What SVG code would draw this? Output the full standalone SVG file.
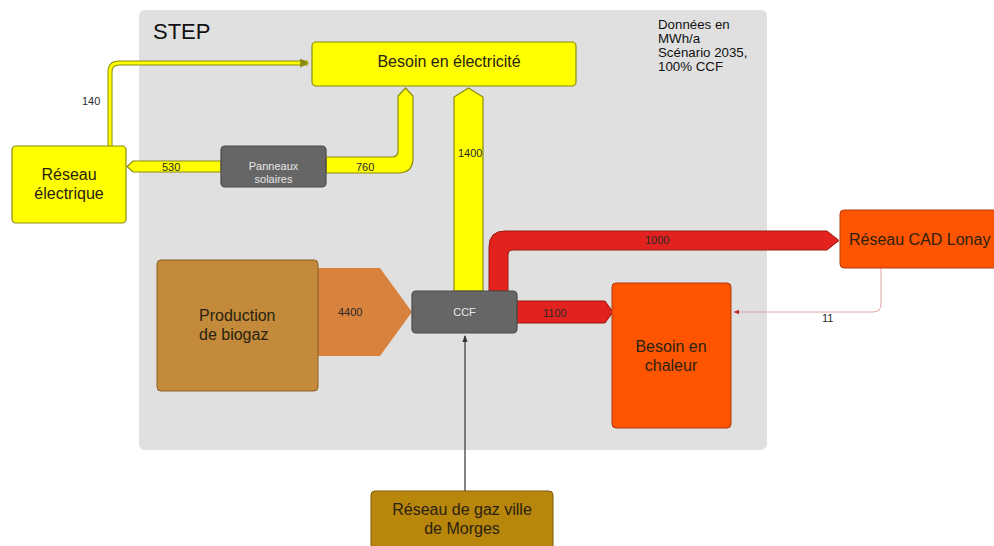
<svg xmlns="http://www.w3.org/2000/svg" width="994" height="546" viewBox="0 0 994 546">
<defs>
<style>
text{font-family:"Liberation Sans",Arial,sans-serif;fill:#2a2210}
.big{font-size:16px}
.num{font-size:11px;fill:#2a2a2a}
.light{font-size:11px;fill:#e8e8e8}
.yel{fill:#ffff00;stroke:#8a8a10;stroke-width:1.2}
.red{fill:#e2221f;stroke:#9a1a10;stroke-width:1}
.dark{fill:#666666;stroke:#4a4a4a;stroke-width:1.2}
</style>
<marker id="aBlack" viewBox="0 0 8 8" refX="7" refY="4" markerWidth="6" markerHeight="6" orient="auto"><path d="M0,1 L8,4 L0,7 Z" fill="#333"/></marker>
<marker id="aRed" viewBox="0 0 8 8" refX="7" refY="4" markerWidth="6" markerHeight="6" orient="auto"><path d="M0,1 L8,4 L0,7 Z" fill="#c03030"/></marker>
<marker id="aYel" viewBox="0 0 8 8" refX="7" refY="4" markerWidth="3" markerHeight="3" orient="auto"><path d="M0,0 L8,4 L0,8 Z" fill="#8a8a10"/></marker>
</defs>
<rect width="994" height="546" fill="#ffffff"/>
<g id="step">
<rect x="139" y="10" width="628" height="440" rx="6" fill="#e0e0e0"/>
<text x="153" y="39" font-size="22" style="fill:#111">STEP</text>
<text x="658" y="29" font-size="13.3" style="fill:#111">Données en</text>
<text x="658" y="43" font-size="13.3" style="fill:#111">MWh/a</text>
<text x="658" y="57" font-size="13.3" style="fill:#111">Scénario 2035,</text>
<text x="658" y="71" font-size="13.3" style="fill:#111">100% CCF</text>
</g>
<g id="connectors">
<path d="M110,146 V72 Q110,63 119,63 H308" fill="none" stroke="#8a8a10" stroke-width="5"/>
<path d="M110,147 V72 Q110,63 119,63 H308" fill="none" stroke="#ffff00" stroke-width="3" marker-end="url(#aYel)"/>
<text class="num" x="82" y="105">140</text>
<path class="yel" d="M221,161 H133 L127,166.5 L133,172 H221 Z"/>
<text class="num" x="162" y="171">530</text>
<path class="yel" d="M326,157 H392 Q398,157 398,151 V96 L405.5,88 L413,96 V158 Q413,173 398,173 H326 Z"/>
<text class="num" x="356" y="171">760</text>
<path class="yel" d="M454,291 V97 L468.5,88 L483,97 V291 Z"/>
<text class="num" x="458" y="157">1400</text>
<path fill="#d9823e" d="M318,268 H380 L412,312 L380,356 H318 Z"/>
<text class="num" x="338" y="316">4400</text>
<path class="red" d="M489,291 V247 Q489,231 505,231 H827 L839,240.5 L827,250 H513 Q508,250 508,255 V291 Z"/>
<text class="num" x="645" y="244">1000</text>
<path class="red" d="M517,301 H605 L613,312 L605,323 H517 Z"/>
<text class="num" x="543" y="317">1100</text>
<path d="M881,268 V304 Q881,312 873,312 H734" fill="none" stroke="#e6a0a0" stroke-width="1" marker-end="url(#aRed)"/>
<text class="num" x="822" y="322">11</text>
<path d="M465,491 V336" fill="none" stroke="#333" stroke-width="1.2" marker-end="url(#aBlack)"/>
</g>
<g id="besoin-electricite">
<rect x="312" y="42" width="264" height="44" rx="4" class="yel"/>
<text class="big" x="449" y="67" text-anchor="middle">Besoin en électricité</text>
</g>
<g id="reseau-electrique">
<rect x="12" y="146" width="114" height="77" rx="4" class="yel"/>
<text class="big" x="69" y="180" text-anchor="middle">Réseau</text>
<text class="big" x="69" y="199" text-anchor="middle">électrique</text>
</g>
<g id="panneaux-solaires">
<rect x="221" y="146" width="105" height="41" rx="4" class="dark"/>
<text class="light" x="273.5" y="170" text-anchor="middle">Panneaux</text>
<text class="light" x="273.5" y="183" text-anchor="middle">solaires</text>
</g>
<g id="production-biogaz">
<rect x="157" y="260" width="161" height="131" rx="4" fill="#c28a3a" stroke="#8a6020" stroke-width="1"/>
<text class="big" x="199" y="321">Production</text>
<text class="big" x="199" y="340">de biogaz</text>
</g>
<g id="ccf">
<rect x="412" y="291" width="105" height="42" rx="4" class="dark"/>
<text class="light" x="464.5" y="316" text-anchor="middle">CCF</text>
</g>
<g id="besoin-chaleur">
<rect x="612" y="283" width="119" height="145" rx="4" fill="#ff5500" stroke="#b03a10" stroke-width="1"/>
<text class="big" x="671" y="352" text-anchor="middle">Besoin en</text>
<text class="big" x="671" y="371" text-anchor="middle">chaleur</text>
</g>
<g id="reseau-cad-lonay">
<rect x="840" y="210" width="160" height="58" rx="4" fill="#ff5500" stroke="#b03a10" stroke-width="1"/>
<text class="big" x="849" y="245">Réseau CAD Lonay</text>
</g>
<g id="reseau-gaz-morges">
<rect x="371" y="491" width="182" height="62" rx="4" fill="#b8860b" stroke="#7a5a08" stroke-width="1"/>
<text class="big" x="462" y="515" text-anchor="middle">Réseau de gaz ville</text>
<text class="big" x="462" y="534" text-anchor="middle">de Morges</text>
</g>
</svg>
